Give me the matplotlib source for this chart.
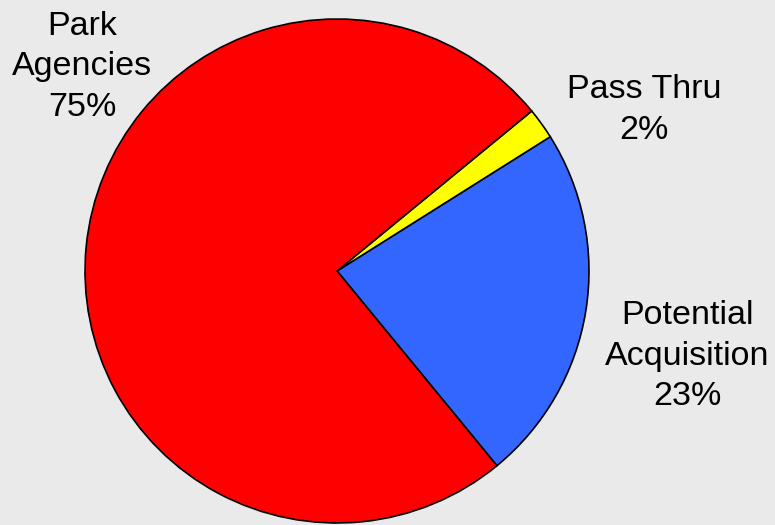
import matplotlib
matplotlib.use("Agg")
import matplotlib.pyplot as plt

categories = ["Potential\nAcquisition", "Pass Thru", "Park\nAgencies"]
values = [23, 2, 75]
colors = ["#3366FF", "#FFFF00", "#FF0000"]

W, H = 775, 525
bg = "#EAEAEA"
fig = plt.figure(figsize=(W / 100, H / 100), dpi=100, facecolor=bg)
plt.rcParams['font.family'] = ['Liberation Sans', 'DejaVu Sans']

cx, cy, r = 337, 271, 253
ax = fig.add_axes([(cx - r) / W, 1 - (cy + r) / H, 2 * r / W, 2 * r / H])
ax.set_facecolor(bg)
wedges, _ = ax.pie(values, colors=colors, startangle=-50.6, counterclock=True,
                   radius=1, wedgeprops=dict(edgecolor="black", linewidth=1.2))
ax.set_xlim(-1.004, 1.004)
ax.set_ylim(-1.004, 1.004)
ax.set_aspect("equal")
ax.axis("off")

label_pos = [(687, 356), (644, 110), (82, 67)]
for cat, v, (px, py) in zip(categories, values, label_pos):
    fig.text(px / W, 1 - py / H, f"{cat}\n{v}%", ha="center", va="center",
             fontsize=24.5, color="black", linespacing=1.4)

fig.savefig("out.png", dpi=100, facecolor=bg)
